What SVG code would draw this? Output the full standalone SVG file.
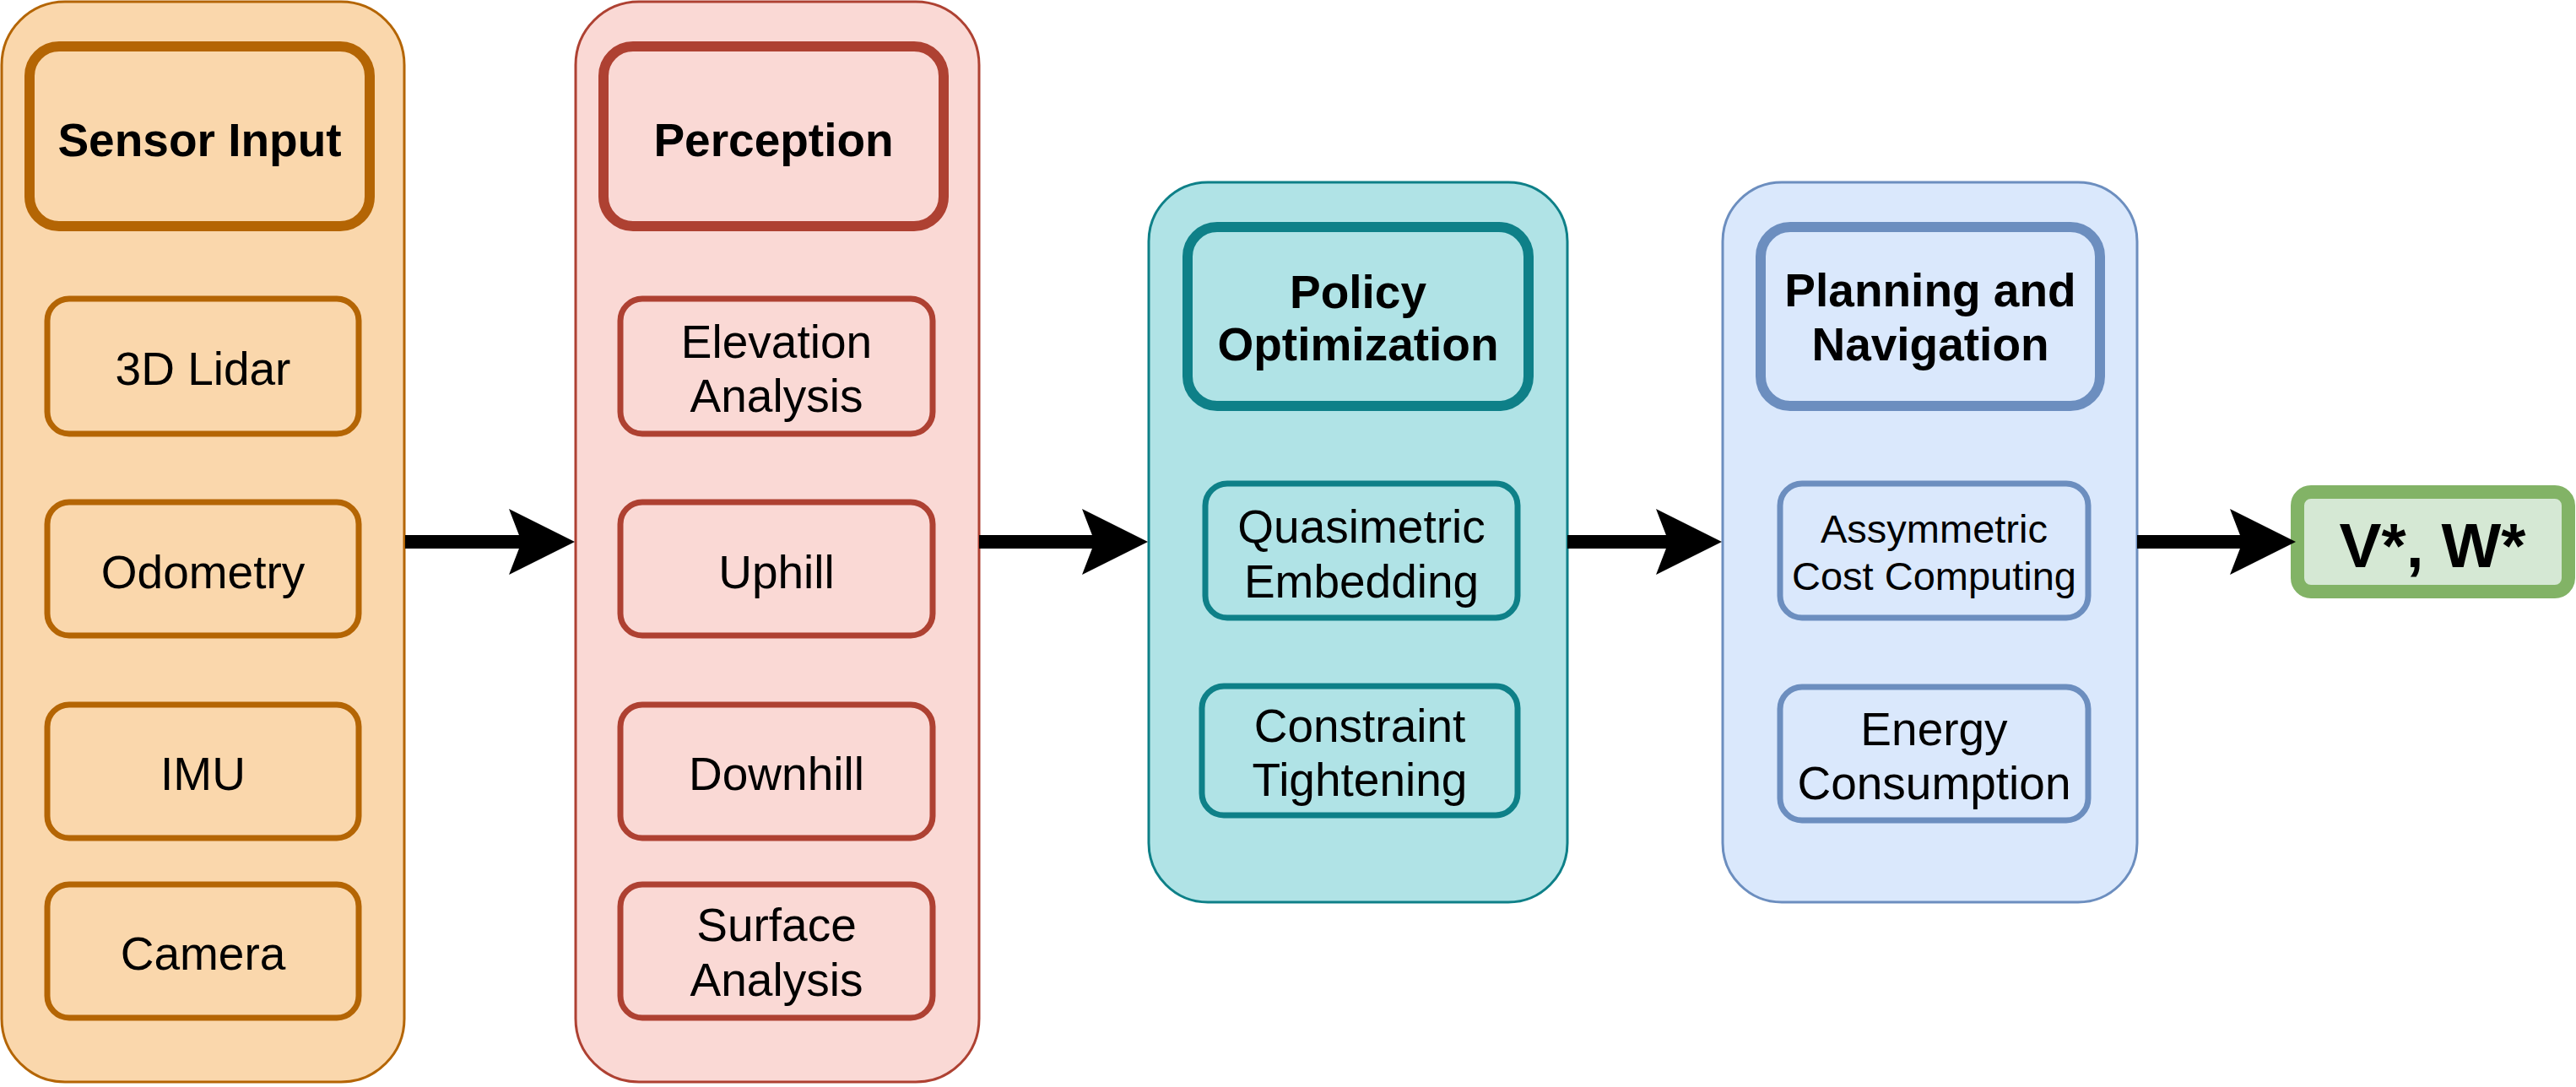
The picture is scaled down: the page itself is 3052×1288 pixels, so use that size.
<svg xmlns="http://www.w3.org/2000/svg" width="3052" height="1288" viewBox="0 0 3052 1288">
<style>
text{font-family:"Liberation Sans",Arial,Helvetica,sans-serif;font-size:55px;fill:#000;text-anchor:middle}
.b{font-weight:bold}
.orange{fill:#fad7ac;stroke:#b46504}
.red{fill:#fad9d5;stroke:#ae4132}
.teal{fill:#b0e3e6;stroke:#0e8088}
.blue{fill:#dae8fc;stroke:#6c8ebf}
.green{fill:#d5e8d4;stroke:#82b366}
.outer{stroke-width:3}
.head{stroke-width:12}
.sub{stroke-width:7}
.conn{stroke:#000;stroke-width:16;fill:none;marker-end:url(#arr)}
</style>
<defs>
<marker id="arr" markerUnits="userSpaceOnUse" viewBox="0 0 78 78" markerWidth="78" markerHeight="78" refX="15" refY="39" orient="auto">
<path d="M0,0 L78,39 L0,78 L15,39 Z" fill="#000"/>
</marker>
</defs>
<rect width="3052" height="1288" fill="#fff"/>

<g id="sensor-group">
<rect class="orange outer" x="2" y="2" width="477" height="1280" rx="75"/>
<g id="sensor-input"><rect class="orange head" x="35" y="55" width="403" height="213" rx="35"/><text class="b" x="236.5" y="185">Sensor Input</text></g>
<g id="lidar"><rect class="orange sub" x="56" y="354" width="369" height="160" rx="26"/><text x="240.5" y="456">3D Lidar</text></g>
<g id="odometry"><rect class="orange sub" x="56" y="595" width="369" height="158" rx="26"/><text x="240.5" y="697">Odometry</text></g>
<g id="imu"><rect class="orange sub" x="56" y="835" width="369" height="158" rx="26"/><text x="240.5" y="936">IMU</text></g>
<g id="camera"><rect class="orange sub" x="56" y="1048" width="369" height="158" rx="26"/><text x="240.5" y="1149">Camera</text></g>
</g>

<g id="perception-group">
<rect class="red outer" x="682" y="2" width="478" height="1280" rx="75"/>
<g id="perception"><rect class="red head" x="715" y="55" width="403" height="213" rx="35"/><text class="b" x="916.5" y="185">Perception</text></g>
<g id="elevation"><rect class="red sub" x="735" y="354" width="370" height="160" rx="26"/><text x="920" y="424">Elevation</text><text x="920" y="488">Analysis</text></g>
<g id="uphill"><rect class="red sub" x="735" y="595" width="370" height="158" rx="26"/><text x="920" y="697">Uphill</text></g>
<g id="downhill"><rect class="red sub" x="735" y="835" width="370" height="158" rx="26"/><text x="920" y="936">Downhill</text></g>
<g id="surface"><rect class="red sub" x="735" y="1048" width="370" height="158" rx="26"/><text x="920" y="1115">Surface</text><text x="920" y="1180">Analysis</text></g>
</g>

<g id="policy-group">
<rect class="teal outer" x="1361" y="216" width="496" height="853" rx="70"/>
<g id="policy"><rect class="teal head" x="1407" y="269" width="404" height="212" rx="35"/><text class="b" x="1609" y="365">Policy</text><text class="b" x="1609" y="427">Optimization</text></g>
<g id="quasimetric"><rect class="teal sub" x="1428" y="573" width="370" height="159" rx="26"/><text x="1613" y="643">Quasimetric</text><text x="1613" y="708">Embedding</text></g>
<g id="constraint"><rect class="teal sub" x="1424" y="813" width="374" height="153" rx="26"/><text x="1611" y="879">Constraint</text><text x="1611" y="943">Tightening</text></g>
</g>

<g id="planning-group">
<rect class="blue outer" x="2041" y="216" width="491" height="853" rx="70"/>
<g id="planning"><rect class="blue head" x="2086" y="269" width="402" height="212" rx="35"/><text class="b" x="2287" y="363">Planning and</text><text class="b" x="2287" y="427">Navigation</text></g>
<g id="assymmetric"><rect class="blue sub" x="2109" y="573" width="365" height="159" rx="26"/><text x="2291.5" y="643" style="font-size:47px">Assymmetric</text><text x="2291.5" y="699" style="font-size:47px">Cost Computing</text></g>
<g id="energy"><rect class="blue sub" x="2109" y="814" width="365" height="158" rx="26"/><text x="2291.5" y="883">Energy</text><text x="2291.5" y="947">Consumption</text></g>
</g>

<g id="output">
<rect class="green" x="2722" y="583" width="321" height="118" rx="16" stroke-width="16"/>
<text class="b" x="2882" y="672" style="font-size:75px">V*, W*</text>
</g>

<g id="connectors">
<path class="conn" d="M480,642 H618"/>
<path class="conn" d="M1160,642 H1297"/>
<path class="conn" d="M1857,642 H1977"/>
<path class="conn" d="M2532,642 H2657"/>
</g>
</svg>
